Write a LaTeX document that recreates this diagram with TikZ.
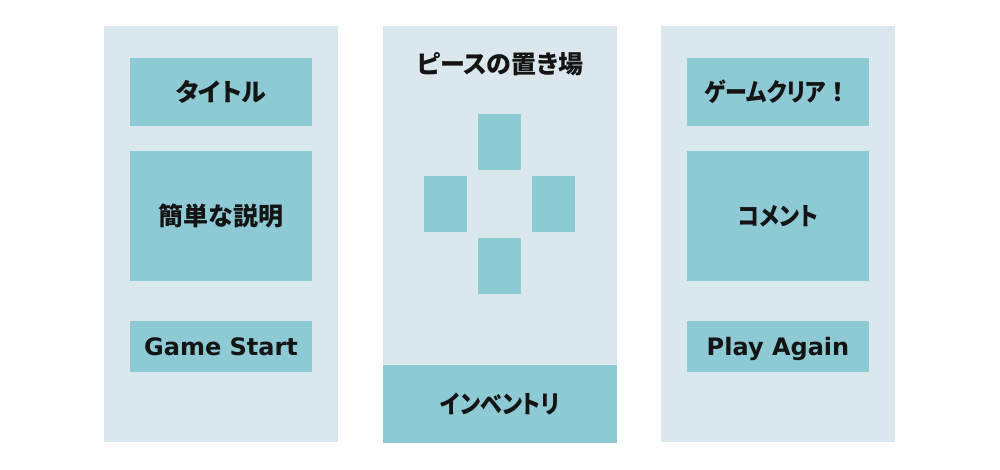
\documentclass[tikz,border=0pt]{standalone}
\usepackage{fontspec}
\newfontfamily\jp{Noto Sans CJK JP}[RawFeature=+palt]
\newfontfamily\jpn{Noto Sans CJK JP}[RawFeature=+palt, FakeStretch=0.88]
\newfontfamily\jpfull{Noto Sans CJK JP}
\newfontfamily\lat{DejaVu Sans}
\definecolor{panelbg}{RGB}{218,232,238}
\definecolor{boxfill}{RGB}{141,202,212}
\definecolor{txt}{RGB}{20,20,20}
\tikzset{
  panel/.style={fill=panelbg, draw=none, inner sep=0pt, minimum width=234pt, minimum height=416pt},
  ubox/.style={fill=boxfill, draw=none, inner sep=0pt, text=txt},
  piece/.style={fill=boxfill, draw=none, inner sep=0pt, minimum width=43pt, minimum height=56pt},
  jtxt/.style={font=\jp\bfseries\fontsize{25}{28}\selectfont, text=txt},
  ntxt/.style={font=\jpn\bfseries\fontsize{25}{28}\selectfont, text=txt},
  ltxt/.style={font=\lat\bfseries\fontsize{24}{28}\selectfont, text=txt, text height=17.5pt, text depth=0pt},
}
\begin{document}
\begin{tikzpicture}[x=1pt,y=-1pt]
\useasboundingbox (0,0) rectangle (1000,469);
\fill[white] (0,0) rectangle (1000,469);
% panels
\node[panel] (pl) at (221,234) {};
\node[panel] (pm) at (500,234) {};
\node[panel] (pr) at (778,234) {};
% left panel
\node[ubox, jtxt, minimum width=182pt, minimum height=68pt] (title) at (221,92) {タイトル};
\node[ubox, jtxt, minimum width=182pt, minimum height=130pt] (desc) at (221,216) {簡単な説明};
\node[ubox, ltxt, minimum width=182pt, minimum height=51pt] (start) at (221,346.5) {Game Start};
% middle panel
\node[jtxt] (place) at (500,64) {ピースの置き場};
\node[piece] (ptop) at (499.5,142) {};
\node[piece] (pleft) at (445.5,204) {};
\node[piece] (pright) at (553.5,204) {};
\node[piece] (pbot) at (499.5,266) {};
\node[ubox, ntxt, minimum width=234pt, minimum height=78pt] (inv) at (500,404) {インベントリ};
% right panel
\node[ubox, ntxt, minimum width=182pt, minimum height=68pt] (clear) at (778,92) {ゲームクリア{\jpfull\bfseries ！}};
\node[ubox, ntxt, minimum width=182pt, minimum height=130pt] (comment) at (778,216) {コメント};
\node[ubox, ltxt, minimum width=182pt, minimum height=51pt] (again) at (778,346.5) {Play Again};
\end{tikzpicture}
\end{document}
